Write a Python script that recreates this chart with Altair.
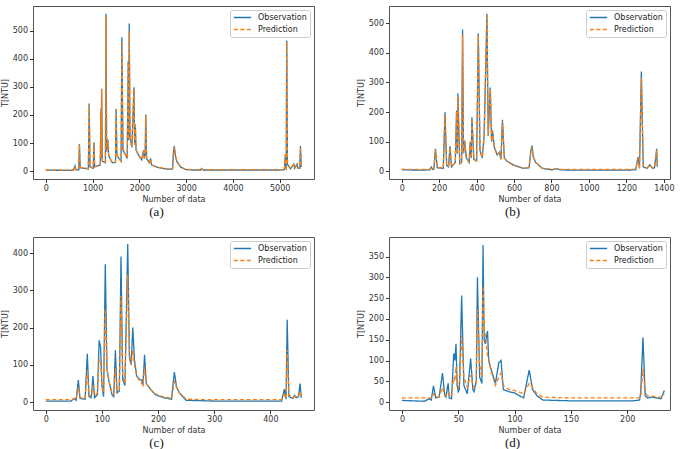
import altair as alt
import pandas as pd

SERIES = ["Observation", "Prediction"]
COLORS = ["#1f77b4", "#ff7f0e"]

# ---------------- panel (a) ----------------
xa = [0, 300, 590, 626, 640, 705, 719, 735, 910, 928, 945, 1015, 1029, 1045, 1165, 1180, 1187, 1194, 1210,
      1275, 1288, 1300, 1324, 1345, 1420, 1490, 1504, 1520, 1610, 1626, 1650, 1740, 1763, 1772, 1784, 1800,
      1840, 1885, 1900, 1914, 1930, 1990, 2050, 2090, 2105, 2125, 2137, 2155, 2210, 2240, 2260, 2400, 2600,
      2710, 2730, 2748, 2770, 2800, 2880, 2980, 3150, 3310, 3330, 3360, 4000, 5000, 5100, 5120, 5130, 5140,
      5150, 5165, 5230, 5300, 5320, 5371, 5390, 5430, 5443, 5460]
obs_a = [4, 3, 3, 18, 5, 5, 97, 12, 8, 241, 15, 10, 103, 15, 22, 223, 45, 293, 35,
         30, 560, 70, 113, 55, 30, 30, 222, 55, 35, 477, 75, 45, 392, 110, 526, 120,
         85, 299, 95, 166, 75, 55, 40, 75, 45, 60, 202, 45, 30, 45, 22, 13, 7,
         8, 70, 89, 55, 35, 15, 6, 4, 4, 9, 4, 4, 4, 5, 59, 10, 8,
         465, 25, 8, 25, 10, 25, 10, 10, 89, 15]
pred_a = [5, 4, 4, 17, 6, 6, 95, 13, 9, 238, 16, 11, 101, 16, 23, 220, 46, 290, 36,
          31, 552, 71, 111, 56, 31, 31, 219, 56, 36, 462, 76, 46, 390, 111, 500, 121,
          86, 296, 96, 163, 76, 56, 41, 73, 46, 61, 199, 46, 31, 44, 23, 14, 8,
          9, 68, 86, 56, 36, 16, 7, 5, 5, 9, 5, 5, 5, 6, 57, 11, 9,
          462, 26, 9, 24, 11, 24, 11, 11, 86, 16]

# ---------------- panel (b) ----------------
xb = [0, 100, 150, 158, 165, 172, 180, 190, 222, 231, 240, 250, 258, 266, 286, 293, 297, 300, 310, 320,
      325, 330, 336, 345, 360, 366, 371, 375, 385, 400, 409, 418, 430, 440, 449, 455, 462, 473, 480, 485,
      495, 510, 522, 530, 538, 548, 560, 600, 650, 680, 690, 696, 702, 715, 750, 800, 830, 845, 900, 1000,
      1200, 1250, 1262, 1270, 1280, 1290, 1310, 1325, 1340, 1350, 1362, 1365]
obs_b = [5, 4, 5, 14, 6, 8, 76, 12, 10, 199, 20, 15, 84, 15, 30, 205, 60, 263, 25, 30,
         479, 60, 104, 45, 30, 100, 45, 182, 40, 35, 465, 70, 45, 120, 356, 532, 120, 283, 100, 138,
         80, 55, 65, 40, 174, 45, 35, 20, 10, 12, 70, 87, 50, 30, 10, 5, 9, 5, 4, 4,
         4, 5, 48, 10, 337, 15, 10, 22, 10, 12, 76, 15]
pred_b = [7, 6, 7, 13, 8, 9, 73, 13, 11, 190, 21, 16, 80, 16, 31, 200, 61, 255, 26, 31,
          462, 61, 100, 46, 31, 97, 46, 178, 41, 36, 460, 71, 46, 118, 350, 530, 121, 278, 101, 135,
          81, 56, 63, 41, 170, 46, 36, 21, 11, 13, 68, 82, 51, 31, 11, 7, 9, 7, 6, 6,
          6, 7, 45, 11, 316, 16, 11, 21, 11, 13, 72, 16]

# ---------------- panel (c) ----------------
xc = [0, 20, 45, 51, 54, 58, 61, 70, 74, 77, 81, 84, 87, 92, 95, 97.6, 100, 103, 106, 109, 112, 118, 121,
      124, 127, 131, 134, 137, 141, 146, 149, 152, 155, 158, 162, 168, 171, 173, 176, 179, 186, 195, 210,
      224, 229, 233, 238, 250, 275, 300, 420, 425, 428, 430, 433, 440, 443, 446, 450, 453, 455]
obs_c = [3, 3, 3, 10, 5, 59, 10, 8, 130, 15, 12, 70, 12, 20, 166, 148, 45, 15, 370, 90, 60, 20, 15,
         139, 25, 30, 391, 60, 45, 424, 120, 100, 200, 112, 70, 60, 60, 45, 127, 50, 36, 20, 12,
         8, 81, 40, 25, 5, 4, 3, 3, 35, 8, 221, 15, 10, 18, 12, 15, 50, 12]
pred_c = [7, 7, 7, 10, 8, 40, 12, 10, 85, 20, 15, 45, 18, 25, 115, 110, 50, 25, 250, 90, 60, 25, 20,
          90, 30, 35, 285, 70, 50, 341, 130, 100, 140, 100, 70, 55, 50, 45, 95, 50, 35, 22, 14,
          10, 55, 40, 25, 8, 7, 7, 7, 20, 10, 140, 20, 12, 15, 14, 15, 30, 15]

# ---------------- panel (d) ----------------
xd = [0, 10, 20, 24, 26, 28, 30, 33, 36, 38, 39, 41, 42, 44, 46, 47, 48, 49, 50, 51, 53, 55, 58, 61, 63,
      64, 66, 67, 69, 71, 72, 73, 74, 76, 77, 79, 83, 86, 88, 90, 95, 100, 108, 113, 116, 120, 125, 150,
      180, 205, 211, 212, 214, 216, 218, 222, 226, 230, 233]
obs_d = [4, 3, 2, 8, 5, 39, 10, 12, 70, 15, 12, 45, 10, 8, 117, 100, 140, 40, 25, 30, 256, 40, 20, 105, 30,
         25, 50, 300, 60, 45, 378, 150, 140, 171, 100, 80, 45, 95, 100, 30, 25, 22, 10, 77, 30, 15, 5, 3,
         3, 3, 5, 24, 155, 15, 10, 12, 10, 8, 28]
pred_d = [10, 10, 10, 10, 10, 20, 12, 12, 35, 15, 15, 25, 15, 15, 60, 50, 85, 55, 35, 40, 160, 60, 35, 65, 40,
          35, 45, 222, 90, 60, 279, 180, 160, 110, 105, 75, 40, 60, 70, 40, 30, 28, 20, 45, 35, 20, 12, 10,
          10, 10, 10, 12, 80, 25, 15, 15, 12, 12, 20]

W, H = 281, 173


def panel(xs, obs, pred, xdom, ydom, xticks, yticks, label):
    n = len(xs)
    df = pd.DataFrame({
        "x": list(xs) + list(xs),
        "T": list(obs) + list(pred),
        "series": [SERIES[0]] * n + [SERIES[1]] * n,
    })
    leg = alt.Legend(
        title=None, orient="top-right", offset=4, padding=3,
        strokeColor="#cccccc", fillColor="#ffffff", cornerRadius=2,
        symbolType="stroke", symbolSize=300, symbolStrokeWidth=1.5,
        labelFontSize=8, labelFont="DejaVu Sans", labelColor="#222222",
        clipHeight=9, rowPadding=3, labelOffset=6,
    )
    return alt.Chart(df).mark_line(strokeWidth=1.3, clip=True).encode(
        x=alt.X("x:Q", scale=alt.Scale(domain=xdom, nice=False, zero=False),
                axis=alt.Axis(values=xticks, title="Number of data", format="d")),
        y=alt.Y("T:Q", scale=alt.Scale(domain=ydom, nice=False, zero=False),
                axis=alt.Axis(values=yticks, title="T[NTU]", format="d")),
        color=alt.Color("series:N", scale=alt.Scale(domain=SERIES, range=COLORS), legend=leg),
        strokeDash=alt.StrokeDash("series:N", scale=alt.Scale(domain=SERIES, range=[[1, 0], [4, 2.5]]),
                                  legend=leg),
    ).properties(
        width=W, height=H,
        title=alt.TitleParams(label, orient="bottom", anchor="middle", dx=-17, offset=2,
                              font="Liberation Serif", fontSize=13, fontWeight="normal", color="#111111"),
    )


pa = panel(xa, obs_a, pred_a, [-273, 5733], [-28, 588], [0, 1000, 2000, 3000, 4000, 5000],
           [0, 100, 200, 300, 400, 500], "(a)")
pb = panel(xb, obs_b, pred_b, [-68, 1433], [-26, 558], [0, 200, 400, 600, 800, 1000, 1200, 1400],
           [0, 100, 200, 300, 400, 500], "(b)")
pc = panel(xc, obs_c, pred_c, [-22.75, 477.75], [-21, 443], [0, 100, 200, 300, 400],
           [0, 100, 200, 300, 400], "(c)")
pd_ = panel(xd, obs_d, pred_d, [-11.5, 238], [-19, 397], [0, 50, 100, 150, 200],
            [0, 50, 100, 150, 200, 250, 300, 350], "(d)")

chart = alt.concat(
    pa, pb, pc, pd_, columns=2, spacing={"row": 58, "column": 75}, bounds="flush"
).resolve_scale(
    x="independent", y="independent"
).resolve_legend(
    color="independent", strokeDash="independent"
).properties(
    padding={"left": 0, "top": 5, "right": 5, "bottom": 0}
).configure_axis(
    grid=False, domain=False, tickColor="#333333", tickSize=3.5, tickWidth=1,
    labelFont="DejaVu Sans", labelFontSize=8, labelColor="#333333", labelPadding=2,
    titleFont="DejaVu Sans", titleFontSize=8, titleFontWeight="normal", titleColor="#333333",
    titlePadding=3,
).configure_view(
    stroke="#555555", strokeWidth=1
)

chart.save("out.html", embed_options={"renderer": "svg", "actions": False})
